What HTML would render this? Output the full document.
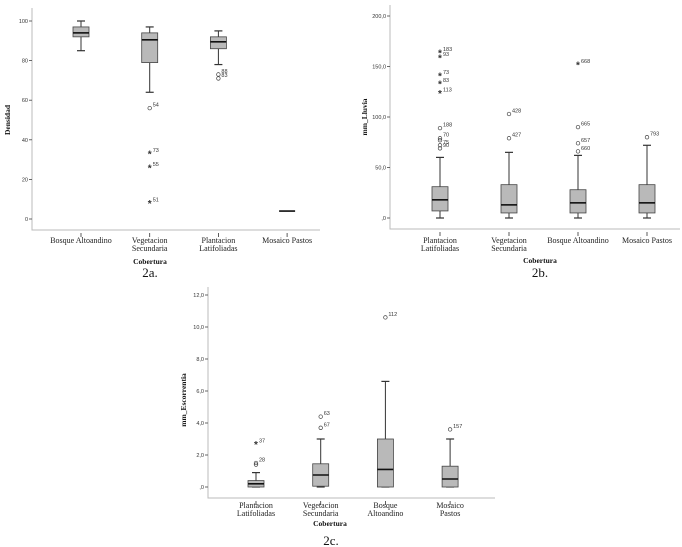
<!DOCTYPE html>
<html><head><meta charset="utf-8">
<style>
html,body{margin:0;padding:0;background:#fff;}
svg{display:block;}
.tk{font-family:"Liberation Sans",sans-serif;font-size:5.5px;fill:#333;}
.cat{font-family:"Liberation Serif",serif;font-size:8px;fill:#222;}
.ttl{font-family:"Liberation Serif",serif;font-size:7.5px;font-weight:bold;fill:#111;}
.cap{font-family:"Liberation Serif",serif;font-size:13px;fill:#111;}
.ol{font-family:"Liberation Sans",sans-serif;font-size:5.5px;fill:#333;}
.star{font-family:"Liberation Sans",sans-serif;font-size:10px;font-weight:bold;fill:#333;}
</style></head>
<body>
<svg id="s" width="682" height="547" viewBox="0 0 682 547"></svg>
<script>
// ---- Chart 2a: Densidad ----
const catsA = ["Bosque Altoandino","Vegetacion|Secundaria","Plantacion|Latifoliadas","Mosaico Pastos"];
const loA = [85,64,78,4];
const q1A = [92,79,86,4];
const medA = [94,90.5,89.5,4];
const q3A = [97,94,92,4];
const hiA = [100,97,95,4];
const outA = [[],[[56,"o","54"],[33,"*","73"],[26,"*","55"],[8,"*","51"]],[[73,"o","88"],[71,"o","83"]],[]];
const ticksA = [0,20,40,60,80,100];
const tickLabA = ["0","20","40","60","80","100"];
// ---- Chart 2b: mm_Lluvia ----
const catsB = ["Plantacion|Latifoliadas","Vegetacion|Secundaria","Bosque Altoandino","Mosaico Pastos"];
const loB = [0,0,0,0];
const q1B = [7,5,5,5];
const medB = [18,13,15,15];
const q3B = [31,33,28,33];
const hiB = [60,65,62,72];
const outB = [[[164,"*","183"],[159,"*","93"],[141,"*","73"],[133,"*","83"],[124,"*","113"],[89,"o","188"],[79,"o","70"],[77,"o",""],[72,"o","75"],[69,"o","90"]],
 [[103,"o","428"],[79,"o","427"]],
 [[152,"*","668"],[90,"o","665"],[74,"o","657"],[66,"o","660"]],
 [[80,"o","793"]]];
const ticksB = [0,50,100,150,200];
const tickLabB = [",0","50,0","100,0","150,0","200,0"];
// ---- Chart 2c: mm_Escorrentia ----
const catsC = ["Plantacion|Latifoliadas","Vegetacion|Secundaria","Bosque|Altoandino","Mosaico|Pastos"];
const loC = [0,0,0,0];
const q1C = [0,0.05,0,0];
const medC = [0.2,0.75,1.1,0.5];
const q3C = [0.4,1.45,3,1.3];
const hiC = [0.9,3,6.6,3];
const outC = [[[2.7,"*","37"],[1.5,"o","28"],[1.4,"o",""]],[[4.4,"o","63"],[3.7,"o","67"]],[[10.6,"o","112"]],[[3.6,"o","157"]]];
const ticksC = [0,2,4,6,8,10,12];
const tickLabC = [",0","2,0","4,0","6,0","8,0","10,0","12,0"];

const NS="http://www.w3.org/2000/svg";
const svg=document.getElementById('s');
function mk(tag,attrs,parent,txt){const e=document.createElementNS(NS,tag);for(const k in attrs)e.setAttribute(k,attrs[k]);if(txt!==undefined)e.textContent=txt;(parent||svg).appendChild(e);return e;}

function chart(cfg){
  const g=mk('g',{});
  
  
  const y=v=>cfg.y0-(v-cfg.v0)*cfg.k;
  const x=i=>cfg.x0+i*cfg.dx;
  const ax=mk('path',{d:`M${cfg.left},${cfg.top}V${cfg.bottom}H${cfg.right}`,stroke:'#bbb','stroke-width':1,fill:'none'},g);
  
  
  cfg.ticks.forEach((t,i)=>{
    mk('line',{x1:cfg.left-3,x2:cfg.left,y1:y(t),y2:y(t),stroke:'#444','stroke-width':0.8},g);
    const tl=mk('text',{x:cfg.left-4,y:y(t)+2,'text-anchor':'end',class:'tk'},g,cfg.tickLab[i]);
    
    
  });
  const yt=mk('text',{x:0,y:0,class:'ttl','text-anchor':'middle',transform:`translate(${cfg.ytx},${cfg.yty}) rotate(-90)`},g,cfg.ytitle);
  
  
  const bw=16;
  cfg.cats.forEach((c,i)=>{
    const cx=x(i);
    mk('line',{x1:cx,x2:cx,y1:cfg.bottom+3,y2:cfg.bottom+7,stroke:'#333','stroke-width':0.8},g);
    c.split('|').forEach((ln,j)=>{
      const t=mk('text',{x:cx,y:cfg.catY+j*8,'text-anchor':'middle',class:'cat'},g,ln);
      
      
    });
    const bg=mk('g',{},g);
    
    
    const lo=cfg.lo[i],q1=cfg.q1[i],md=cfg.med[i],q3=cfg.q3[i],hi=cfg.hi[i];
    if(hi>lo){
      mk('line',{x1:cx,x2:cx,y1:y(hi),y2:y(q3),stroke:'#333','stroke-width':1},bg);
      mk('line',{x1:cx,x2:cx,y1:y(q1),y2:y(lo),stroke:'#333','stroke-width':1},bg);
      mk('line',{x1:cx-4,x2:cx+4,y1:y(hi),y2:y(hi),stroke:'#333','stroke-width':1.2},bg);
      mk('line',{x1:cx-4,x2:cx+4,y1:y(lo),y2:y(lo),stroke:'#333','stroke-width':1.2},bg);
      mk('rect',{x:cx-bw/2,y:y(q3),width:bw,height:Math.max(0.5,y(q1)-y(q3)),fill:'#b9b9b9',stroke:'#444','stroke-width':0.8},bg);
    }
    mk('line',{x1:cx-bw/2,x2:cx+bw/2,y1:y(md),y2:y(md),stroke:'#111','stroke-width':1.6},bg);
    cfg.out[i].forEach(o=>{
      const oy=y(o[0]);
      if(o[1]==='o') mk('circle',{cx:cx,cy:oy,r:1.8,fill:'none',stroke:'#444','stroke-width':0.7},bg);
      else mk('text',{x:cx,y:oy+4,'text-anchor':'middle',class:'star'},bg,'*');
      if(o[2]) mk('text',{x:cx+3,y:oy-1.5,class:'ol'},bg,o[2]);
    });
  });
  const xt=mk('text',{x:cfg.xtx,y:cfg.xty,'text-anchor':'middle',class:'ttl'},g,'Cobertura');
  
  
  const cp=mk('text',{x:cfg.capx,y:cfg.capy,'text-anchor':'middle',class:'cap'},g,cfg.cap);
  
  
}
chart({name:'chart-2a',left:32,right:320,top:8,bottom:230,v0:0,y0:219,k:1.98,x0:81,dx:68.7,
  cats:catsA,lo:loA,q1:q1A,med:medA,q3:q3A,hi:hiA,out:outA,ticks:ticksA,tickLab:tickLabA,
  ytitle:'Densidad',ytx:10,yty:120,catY:243,xtx:150,xty:264,cap:'2a.',capx:150,capy:277});
chart({name:'chart-2b',left:390,right:680,top:5,bottom:229,v0:0,y0:218,k:1.01,x0:440,dx:69,
  cats:catsB,lo:loB,q1:q1B,med:medB,q3:q3B,hi:hiB,out:outB,ticks:ticksB,tickLab:tickLabB,
  ytitle:'mm_Lluvia',ytx:367,yty:117,catY:243,xtx:540,xty:263,cap:'2b.',capx:540,capy:277});
chart({name:'chart-2c',left:208,right:495,top:287,bottom:498,v0:0,y0:487,k:16,x0:256,dx:64.7,
  cats:catsC,lo:loC,q1:q1C,med:medC,q3:q3C,hi:hiC,out:outC,ticks:ticksC,tickLab:tickLabC,
  ytitle:'mm_Escorrentia',ytx:186,yty:400,catY:508,xtx:330,xty:526,cap:'2c.',capx:331,capy:545});
</script>
</body></html>
